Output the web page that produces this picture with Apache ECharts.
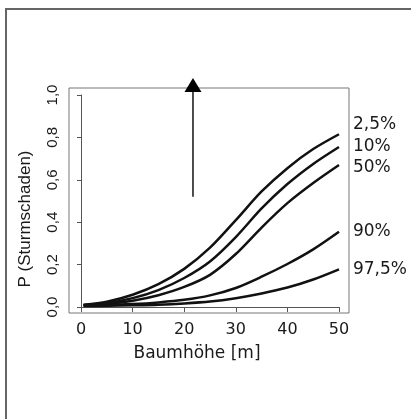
<!DOCTYPE html>
<html><head><meta charset="utf-8">
<script src="https://cdn.jsdelivr.net/npm/echarts@6/dist/echarts.min.js"></script>
<style>html,body{margin:0;padding:0;background:#fff}#c{width:411px;height:419px}</style>
</head><body><div id="c"></div>
<script>
// Data
const heights = [0.5, 5, 10, 15, 20, 25, 30, 35, 40, 45, 50];
const q025 = [0.010, 0.025, 0.058, 0.108, 0.180, 0.280, 0.410, 0.545, 0.655, 0.745, 0.815];
const q10  = [0.010, 0.019, 0.042, 0.080, 0.137, 0.215, 0.330, 0.465, 0.580, 0.675, 0.755];
const q50  = [0.010, 0.015, 0.030, 0.056, 0.095, 0.152, 0.250, 0.375, 0.490, 0.585, 0.670];
const q90  = [0.007, 0.009, 0.014, 0.022, 0.034, 0.055, 0.090, 0.143, 0.203, 0.272, 0.355];
const q975 = [0.005, 0.006, 0.008, 0.011, 0.017, 0.026, 0.042, 0.064, 0.092, 0.130, 0.178];
const seriesNames = ['2,5%', '10%', '50%', '90%', '97,5%'];
const xTickLabels = ['0', '10', '20', '30', '40', '50'];
const yTickLabels = ['0,0', '0,2', '0,4', '0,6', '0,8', '1,0'];
const xTitle = 'Baumhöhe [m]';
const yTitle = 'P (Sturmschaden)';
const arrowX = 21.7, arrowFrom = 0.52, arrowTo = 1.08;

const allSeries = [q025, q10, q50, q90, q975];
const labelOffsets = [[14, -10], [14, 0], [14, 3], [14, 0], [14, 0]];

const chart = echarts.init(document.getElementById('c'), null, {renderer: 'canvas'});
const series = allSeries.map((vals, i) => ({
  type: 'line', name: seriesNames[i], xAxisIndex: 0, yAxisIndex: 0,
  data: heights.map((h, j) => [h, vals[j]]),
  smooth: 0.3, showSymbol: false, silent: true, clip: false,
  lineStyle: {color: '#111', width: 2.5},
  endLabel: {show: true, formatter: seriesNames[i], distance: 0, offset: labelOffsets[i],
    color: '#1a1a1a', fontFamily: 'DejaVu Sans', fontSize: 17},
  z: 3
}));
series.push({
  type: 'custom', xAxisIndex: 0, yAxisIndex: 0, clip: false, silent: true,
  data: [[arrowX, arrowFrom, arrowTo]],
  encode: {x: 0, y: [1, 2]},
  renderItem: function (params, api) {
    const p0 = api.coord([api.value(0), api.value(1)]);
    const p1 = api.coord([api.value(0), api.value(2)]);
    const headH = 14, headW = 8.5;
    return {
      type: 'group', children: [
        {type: 'line', shape: {x1: p0[0], y1: p0[1], x2: p1[0], y2: p1[1] + headH - 1},
          style: {stroke: '#222', lineWidth: 1.6}},
        {type: 'polygon', shape: {points: [[p1[0], p1[1]], [p1[0] - headW, p1[1] + headH], [p1[0] + headW, p1[1] + headH]]},
          style: {fill: '#000'}}
      ]
    };
  },
  z: 4
});

const option = {
  animation: false,
  backgroundColor: '#fff',
  grid: [
    {left: 69, right: 62, top: 88, bottom: 106, show: true, borderColor: '#777', borderWidth: 1, backgroundColor: 'transparent'},
    {left: 81, right: 72, top: 95, bottom: 112}
  ],
  xAxis: [
    {type: 'value', gridIndex: 0, min: -2.33, max: 51.94, show: false},
    {type: 'value', gridIndex: 1, min: 0, max: 50, interval: 10, offset: 6,
      axisLine: {show: true, lineStyle: {color: '#555', width: 1}},
      axisTick: {show: true, length: 5, lineStyle: {color: '#555'}},
      splitLine: {show: false},
      axisLabel: {margin: 9, color: '#1a1a1a', fontFamily: 'DejaVu Sans', fontSize: 16,
        formatter: v => xTickLabels[Math.round(v / 10)]}}
  ],
  yAxis: [
    {type: 'value', gridIndex: 0, min: -0.028, max: 1.033, show: false},
    {type: 'value', gridIndex: 1, min: 0, max: 1, interval: 0.2, offset: 12,
      axisLine: {show: true, lineStyle: {color: '#555', width: 1}},
      axisTick: {show: true, length: 4, lineStyle: {color: '#555'}},
      splitLine: {show: false},
      axisLabel: {margin: 9, rotate: 90, color: '#1a1a1a', fontFamily: 'Liberation Sans', fontSize: 15,
        formatter: v => yTickLabels[Math.round(v / 0.2)]}}
  ],
  series: series,
  graphic: [
    {type: 'polyline', silent: true, shape: {points: [[6, 419], [6, 9], [411, 9]]},
      style: {stroke: '#666', lineWidth: 2, fill: null}},
    {type: 'text', silent: true, x: 197, y: 354, style: {text: xTitle, fontFamily: 'DejaVu Sans', fontSize: 17,
      fill: '#1a1a1a', align: 'center', verticalAlign: 'middle'}},
    {type: 'text', silent: true, x: 25, y: 219, rotation: Math.PI / 2, style: {text: yTitle, fontFamily: 'Liberation Sans', fontSize: 17,
      fill: '#1a1a1a', align: 'center', verticalAlign: 'middle'}}
  ]
};
chart.setOption(option);
</script></body></html>
